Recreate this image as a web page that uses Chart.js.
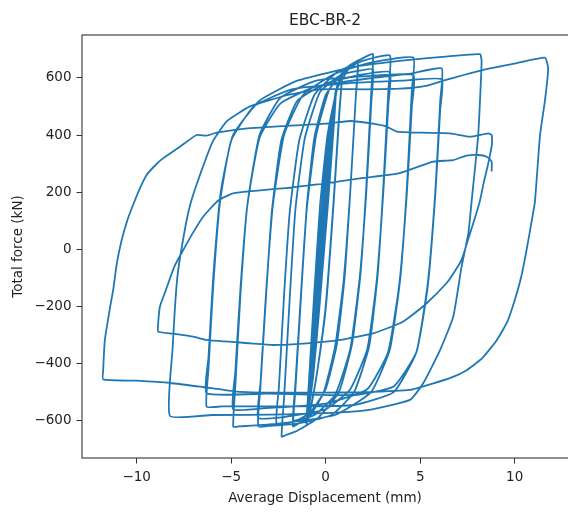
<!DOCTYPE html>
<html>
<head>
<meta charset="utf-8">
<script src="https://cdn.jsdelivr.net/npm/chart.js@4.4.1/dist/chart.umd.min.js"></script>
<style>
  html, body { margin: 0; padding: 0; background: #fff; overflow: hidden; }
  #wrap { width: 568px; height: 512px; }
</style>
</head>
<body>
<div id="wrap"><canvas id="chart" width="568" height="512"></canvas></div>
<script>
// ---------- data: [average displacement (mm), total force (kN)] ----------
const elasticCycles = [
  [-0.15, 0], [0.05, 200], [0.3, 400],
  [0.22, 300], [-0.05, 60], [-0.3, -150], [-0.5, -290], [-0.65, -400],
  [-0.55, -300], [-0.3, -100], [-0.05, 120], [0.2, 330], [0.35, 450],
  [0.26, 340], [0, 100], [-0.3, -160], [-0.55, -350], [-0.72, -460],
  [-0.6, -350], [-0.35, -130], [-0.05, 130], [0.2, 350], [0.42, 500],
  [0.32, 380], [0.05, 120], [-0.3, -170], [-0.6, -400], [-0.8, -510],
  [-0.68, -390], [-0.4, -150], [-0.1, 110], [0.2, 370], [0.48, 530],
  [0.38, 410], [0.08, 140], [-0.3, -170], [-0.62, -420], [-0.85, -540],
  [-0.72, -420], [-0.45, -170], [-0.12, 110], [0.22, 380], [0.52, 550],
  [0.41, 430], [0.1, 150], [-0.3, -180], [-0.65, -440], [-0.9, -560],
  [-0.77, -440], [-0.5, -180], [-0.15, 100], [0.2, 380], [0.55, 560],
  [0.44, 440], [0.1, 140], [-0.32, -190], [-0.68, -450], [-0.92, -570]
];
const cycle085 = [
  [-0.8, -450], [-0.5, -160], [-0.15, 150], [0.25, 420], [0.6, 560], [0.85, 600],
  [0.72, 480], [0.4, 150], [0, -200], [-0.45, -430], [-0.8, -560], [-1.0, -600],
  [-0.88, -480], [-0.55, -160], [-0.2, 150], [0.2, 420], [0.6, 570], [0.87, 610],
  [0.75, 500], [0.42, 160], [0, -210], [-0.5, -450], [-0.85, -570], [-1.02, -610]
];
const cycle17 = [
  [-0.9, -480], [-0.6, -150], [-0.3, 150], [0.1, 400], [0.6, 560], [1.2, 630], [1.7, 660],
  [1.6, 540], [1.3, 200], [1.0, -100], [0.6, -330], [0, -490], [-0.8, -570], [-1.4, -595], [-1.73, -600],
  [-1.6, -470], [-1.3, -150], [-1.0, 150], [-0.6, 390], [0, 540], [0.8, 610], [1.7, 650],
  [1.6, 540], [1.3, 200], [0.95, -110], [0.5, -340], [-0.1, -500], [-0.9, -590], [-1.5, -612], [-1.73, -620]
];
const cycle25 = [
  [-1.6, -490], [-1.3, -160], [-1.0, 140], [-0.5, 400], [0.2, 560], [1.2, 640], [2.0, 670], [2.5, 683],
  [2.42, 560], [2.15, 220], [1.85, -80], [1.4, -330], [0.7, -500], [-0.4, -590], [-1.5, -635], [-2.1, -650], [-2.33, -656],
  [-2.2, -520], [-1.9, -170], [-1.6, 140], [-1.1, 390], [-0.3, 550], [0.8, 610], [1.8, 625], [2.5, 630],
  [2.42, 520], [2.15, 200], [1.8, -100], [1.3, -350], [0.5, -510], [-0.6, -580], [-1.8, -605], [-2.6, -610]
];
const cycle34 = [
  [-2.47, -480], [-2.2, -160], [-1.9, 130], [-1.4, 380], [-0.6, 540], [0.6, 620], [2.0, 660], [3.4, 678],
  [3.32, 560], [3.05, 220], [2.75, -90], [2.3, -340], [1.5, -500], [0.3, -580], [-1.5, -610], [-3.0, -618], [-3.57, -620],
  [-3.45, -480], [-3.15, -160], [-2.85, 130], [-2.35, 380], [-1.5, 520], [0, 580], [1.8, 610], [3.4, 620],
  [3.32, 510], [3.05, 200], [2.7, -110], [2.2, -350], [1.3, -490], [0, -560], [-2, -585], [-3.57, -590]
];
const cycle46 = [
  [-3.45, -470], [-3.15, -150], [-2.8, 150], [-2.2, 400], [-1.2, 540], [0.5, 615], [2.5, 655], [4.64, 671],
  [4.56, 560], [4.3, 220], [3.95, -100], [3.4, -350], [2.4, -500], [0.5, -580], [-2.5, -610], [-4.6, -620], [-4.89, -621],
  [-4.78, -480], [-4.5, -150], [-4.15, 150], [-3.5, 400], [-2.4, 530], [-0.5, 590], [2.0, 605], [4.64, 610],
  [4.56, 500], [4.3, 200], [3.9, -120], [3.3, -360], [2.2, -490], [0, -540], [-3, -555], [-4.89, -560]
];
const cycle61 = [
  [-4.78, -430], [-4.5, -130], [-4.15, 150], [-3.5, 390], [-2.4, 510], [-0.5, 570], [2.5, 600], [4.5, 615], [6.14, 633],
  [6.06, 520], [5.8, 200], [5.4, -120], [4.8, -360], [3.6, -500], [1.5, -545], [-2, -550], [-5.5, -550], [-6.3, -551],
  [-6.2, -420], [-5.95, -130], [-5.6, 160], [-5.0, 380], [-3.8, 500], [-1.8, 560], [1, 580], [4, 590], [6.14, 595],
  [6.06, 490], [5.8, 190], [5.4, -130], [4.8, -360], [3.6, -480], [1.5, -510], [-3, -505], [-6.3, -504]
];
const cycle82 = [
  [-6.2, -380], [-5.95, -100], [-5.55, 200], [-4.9, 400], [-3.5, 520], [-1.5, 590], [1.64, 640], [4.29, 662], [6.5, 675], [8.16, 683],
  [8.25, 657], [8.07, 400], [7.72, 167], [7.55, 56], [7.19, -61], [6.75, -236], [6.05, -353], [5.16, -469], [4.46, -527],
  [2, -565], [-2, -578], [-6, -580], [-8.24, -583]
];
const cycle116 = [
  [-8.1, -350], [-7.85, -100], [-7.5, 50], [-7.17, 155], [-6.65, 260], [-5.95, 380], [-5.2, 450], [-4, 500],
  [-2, 540], [-0.3, 560], [2, 560], [3.93, 562], [5.3, 572], [6.22, 590], [7.3, 610], [8.34, 628], [10, 650], [11.6, 671],
  [11.77, 633], [11.6, 520], [11.34, 400], [11.07, 167], [10.85, 80], [10.63, -2], [10.35, -95], [10.0, -178],
  [9.6, -255], [9.05, -318], [8.3, -380], [7.46, -423], [6.6, -450], [5.7, -469], [4.46, -492], [2, -500],
  [0, -502], [-2.5, -502], [-4.7, -498], [-6.5, -482], [-8.2, -468], [-10, -460], [-11.77, -455]
];
const cycleDegraded = [
  [-11.77, -423], [-11.68, -317], [-11.4, -201], [-11.24, -142], [-11.05, -50], [-10.8, 30], [-10.5, 100],
  [-10.19, 155], [-9.85, 210], [-9.47, 260], [-9.0, 295], [-8.59, 319], [-7.71, 359], [-6.83, 400], [-6.3, 398],
  [-5.77, 408], [-4, 424], [0, 440], [1.3, 449], [2.5, 440], [3.2, 430], [3.76, 412], [5, 408], [6.58, 406],
  [7.64, 394], [8.6, 406], [8.78, 400],
  [8.8, 370], [8.6, 300], [8.35, 230], [8.17, 172], [7.9, 110], [7.64, 56], [7.19, -37], [6.8, -80], [6.4, -118],
  [5.34, -189], [4.46, -236], [3.93, -259], [2.52, -294], [0.76, -317], [-1, -329], [-2.77, -335], [-4, -329],
  [-6.3, -317], [-7, -306], [-8.24, -294], [-8.86, -288]
];
const finalReload = [
  [-8.86, -259], [-8.77, -201], [-8.45, -142], [-8.0, -60], [-7.53, -2], [-7.0, 60], [-6.48, 114], [-5.7, 170],
  [-4.89, 196], [-2, 215], [0, 231], [2, 250], [3.86, 266], [5.69, 307], [6.73, 312], [7.46, 328],
  [8.07, 330], [8.52, 324], [8.78, 307], [8.78, 272]
];

const X_MIN = -12.89, X_MAX = 12.82;
const Y_MIN = -730.5, Y_MAX = 750;

// ---------- chart ----------
const history = [].concat(elasticCycles, cycle085, cycle17, cycle25, cycle34, cycle46,
  cycle61, cycle82, cycle116, cycleDegraded, finalReload);
const points = history.map(p => ({ x: p[0], y: p[1] }));

const FONT = 'DejaVu Sans';
const TXT = '#222';
const fmt = v => (v < 0 ? '\u2212' + Math.abs(v) : String(v));

// matplotlib-like box round the axes
const frame = {
  id: 'frame',
  afterDraw(chart) {
    const { ctx, chartArea: a } = chart;
    ctx.save();
    ctx.strokeStyle = '#333';
    ctx.lineWidth = 1.1;
    ctx.strokeRect(a.left, a.top, a.right - a.left + 2, a.bottom - a.top);
    ctx.restore();
  }
};

new Chart(document.getElementById('chart'), {
  type: 'scatter',
  data: {
    datasets: [{
      data: points, showLine: true, borderColor: '#1f77b4', borderWidth: 1.8,
      pointRadius: 0, tension: 0.15, fill: false
    }]
  },
  options: {
    responsive: false, animation: false,
    layout: { padding: 0 },
    plugins: {
      legend: { display: false }, tooltip: { enabled: false },
      title: {
        display: true, text: 'EBC-BR-2', fullSize: false, color: TXT,
        font: { family: FONT, size: 15.5, weight: 'normal' }, padding: { top: 12, bottom: 4.4 }
      }
    },
    scales: {
      x: {
        type: 'linear', min: X_MIN, max: X_MAX,
        afterFit: s => { s.height = 54; },
        border: { display: false },
        grid: { drawOnChartArea: false, tickLength: 5.5, color: '#333' },
        ticks: { stepSize: 5, includeBounds: false, callback: fmt, color: TXT, padding: 6, maxRotation: 0,
          font: { family: FONT, size: 13.5 } },
        title: { display: true, text: 'Average Displacement (mm)', color: TXT,
          font: { family: FONT, size: 13.5 }, padding: { top: 0, bottom: 5 } }
      },
      y: {
        type: 'linear', min: Y_MIN, max: Y_MAX,
        afterFit: s => { s.width = 82; },
        border: { display: false },
        grid: { drawOnChartArea: false, tickLength: 5.5, color: '#333' },
        ticks: { stepSize: 200, includeBounds: false, callback: fmt, color: TXT, padding: 5,
          font: { family: FONT, size: 13.5 } },
        title: { display: true, text: 'Total force (kN)', color: TXT,
          font: { family: FONT, size: 13.5 }, padding: { top: 10, bottom: 0 } }
      }
    }
  },
  plugins: [frame]
});
</script>
</body>
</html>
